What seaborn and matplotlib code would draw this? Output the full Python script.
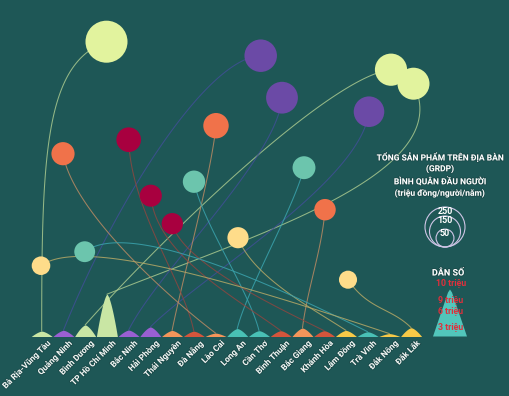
import numpy as np
import pandas as pd
import matplotlib
matplotlib.use('Agg')
import matplotlib.pyplot as plt
import matplotlib.patheffects as pe
import seaborn as sns

# provinces, sorted by GRDP per capita (high -> low)
provinces = ['Bà Rịa-Vũng Tàu', 'Quảng Ninh', 'Bình Dương', 'TP Hồ Chí Minh', 'Bắc Ninh',
             'Hải Phòng', 'Thái Nguyên', 'Đà Nẵng', 'Lào Cai', 'Long An', 'Cần Thơ',
             'Bình Thuận', 'Bắc Giang', 'Khánh Hòa', 'Lâm Đồng', 'Trà Vinh', 'Đắk Nông', 'Đắk Lắk']
region = ['green', 'purple', 'green', 'green', 'purple', 'purple', 'orange', 'crimson', 'orange',
          'teal', 'teal', 'crimson', 'orange', 'crimson', 'yellow', 'teal', 'yellow', 'yellow']
population = [1.15, 1.32, 2.46, 8.99, 1.37, 2.03, 1.29, 1.13, 0.73, 1.69, 1.24, 1.23, 1.80,
              1.23, 1.30, 1.01, 0.62, 1.87]  # triệu người
grdp = [276, 165, 162, 160, 158, 146, 101, 95, 84, 82, 78, 76, 72, 71, 70, 68, 54, 51]
# order of each province's mountain on the baseline and horizontal bubble placement
baseline_order = list(range(len(provinces)))
bubble_x = [106.5, 260.7, 391, 413.5, 282, 369, 216, 128.7, 63, 304, 194, 150.8, 325, 172.3,
            238, 84.7, 41, 348]

size_legend = [250, 150, 50]
pop_legend = ['10 triệu', '9 triệu', '6 triệu', '3 triệu']
pop_legend_max = 10

# ---- layout / style ----
W, H = 510, 396
BG = '#1e5756'
X0, STEP = 41.7, 21.73        # first column, column spacing (px)
BASE_Y = 336.5                # mountain baseline
PX_PER_M = 4.7                # mountain height per million people
Y0, DY = 41.7, 14.0           # bubble rows by rank
R250 = 20.0                   # bubble radius (px) for 250

circle_pal = {'green': '#e2f39e', 'purple': '#6b4aa6', 'orange': '#f0724a',
              'crimson': '#a8003f', 'teal': '#6cc5ad', 'yellow': '#fedc8a'}
mount_pal = {'green': '#c9e6a4', 'purple': '#9a5fd2', 'orange': '#f3955a',
             'crimson': '#d3553c', 'teal': '#49c0b5', 'yellow': '#f7c947'}
line_pal = {'green': '#a9c98f', 'purple': '#3f4f95', 'orange': '#b98a63',
            'crimson': '#8d4640', 'teal': '#3aa3ad', 'yellow': '#b5a866'}

# bezier handles: (exit from bubble), (entry to peak)
handles = {
    'Bà Rịa-Vũng Tàu': ((-62, 22), (0, -175)),
    'Quảng Ninh': ((-55, 2), (50, -125)),
    'Bình Dương': ((-60, 6), (80, -90)),
    'TP Hồ Chí Minh': ((45, 90), (150, -60)),
    'Bắc Ninh': ((-4, 60), (30, -60)),
    'Hải Phòng': ((-8, 70), (50, -50)),
    'Thái Nguyên': ((-5, 50), (10, -50)),
    'Đà Nẵng': ((2, 70), (-10, -50)),
    'Lào Cai': ((10, 60), (-40, -30)),
    'Long An': ((-10, 40), (10, -40)),
    'Cần Thơ': ((8, 40), (-10, -40)),
    'Bình Thuận': ((5, 60), (-40, -30)),
    'Bắc Giang': ((-3, 40), (5, -40)),
    'Khánh Hòa': ((10, 40), (-40, -20)),
    'Lâm Đồng': ((15, 40), (-30, -20)),
    'Trà Vinh': ((40, -30), (-120, -60)),
    'Đắk Nông': ((40, -30), (-150, -50)),
    'Đắk Lắk': ((20, 30), (-20, -20)),
}

df = pd.DataFrame({'province': provinces, 'region': region, 'pop': population, 'grdp': grdp,
                   'bx': bubble_x})
df['rank'] = np.arange(len(df))
df['by'] = Y0 + DY * df['rank']
df['px'] = X0 + STEP * np.array(baseline_order)
df['h'] = df['pop'] * PX_PER_M

sns.set_theme(style='white')
plt.rcParams['font.family'] = ['Roboto', 'DejaVu Sans']

fig = plt.figure(figsize=(W / 100, H / 100), dpi=100)
fig.patch.set_facecolor(BG)
ax = fig.add_axes([0, 0, 1, 1])
ax.set_facecolor(BG)


def bezier(p0, p1, p2, p3, n=80):
    t = np.linspace(0, 1, n)[:, None]
    return ((1 - t) ** 3 * p0 + 3 * (1 - t) ** 2 * t * p1 + 3 * (1 - t) * t ** 2 * p2 + t ** 3 * p3)


def bump(t):
    # dome for small heights, cone with rounded tip for tall ones
    return 1 - np.abs(t) ** 1.5


# connecting curves
for _, r in df.iterrows():
    p0 = np.array([r.bx, r.by])
    p3 = np.array([r.px, BASE_Y - r.h])
    h1, h2 = handles[r.province]
    pts = bezier(p0, p0 + h1, p3 + h2, p3)
    ax.plot(pts[:, 0], pts[:, 1], color=line_pal[r.region], lw=0.75, alpha=0.85, zorder=1)

# population mountains
t = np.linspace(-1, 1, 81)
for _, r in df.iterrows():
    xs = r.px + 10.5 * t
    ys = BASE_Y - r.h * bump(t)
    ax.fill_between(xs, ys, BASE_Y, color=mount_pal[r.region], lw=0, zorder=3)

# GRDP bubbles (area ~ value)
s_per_unit = (2 * R250 * 0.72) ** 2 / 250
sns.scatterplot(data=df, x='bx', y='by', hue='region', palette=circle_pal, size='grdp',
                sizes=(0, s_per_unit * 300), size_norm=(0, 300), linewidth=0,
                legend=False, ax=ax, zorder=4)
ax.set_xlim(0, W)
ax.set_ylim(H, 0)
ax.axis('off')

# province labels
shadow = [pe.withStroke(linewidth=1.2, foreground='#163f3e', alpha=0.6)]
for _, r in df.iterrows():
    ax.text(r.px + 5, BASE_Y + 3, r.province, rotation=45, ha='right', va='top',
            rotation_mode='anchor', fontsize=6.1, fontweight='bold', color='#eef3f1',
            path_effects=shadow, zorder=5)

# GRDP legend
LX = 440
for i, line in enumerate(['TỔNG SẢN PHẨM TRÊN ĐỊA BÀN', '(GRDP)', 'BÌNH QUÂN ĐẦU NGƯỜI',
                          '(triệu đồng/người/năm)']):
    ax.text(LX, 157 + 12.2 * i, line, ha='center', va='center', fontsize=6.1,
            fontweight='bold', color='white', path_effects=shadow)
CX, CB = 445, 247
for v in size_legend:
    rr = R250 * np.sqrt(v / 250)
    ax.add_patch(plt.Circle((CX, CB - rr), rr, fill=False, ec='#cfc6e6', lw=0.8, zorder=4))
    ax.text(CX, CB - 2 * rr + 4.5, str(v), ha='center', va='center', fontsize=6.5,
            fontweight='bold', color='white', zorder=5)

# population legend
TX = 450
ax.text(TX - 2, 273, 'DÂN SỐ', ha='center', va='center', fontsize=6.5, fontweight='bold',
        color='white', path_effects=shadow)
th = pop_legend_max * PX_PER_M
tri_x = np.array([TX - 17, TX - 2, TX, TX + 2, TX + 17])
tri_y = np.array([BASE_Y, BASE_Y - th + 3, BASE_Y - th, BASE_Y - th + 3, BASE_Y])
ax.fill(tri_x, tri_y, color='#52c6bb', lw=0, zorder=3)
label_y = [284, 300.5, 311.5, 328]
for lab, yy in zip(pop_legend, label_y):
    ax.text(TX + 1, yy, lab, ha='center', va='center', fontsize=6.3, fontweight='bold',
            color='#e0303c', zorder=5)

fig.savefig('out.png', dpi=100, facecolor=BG)
